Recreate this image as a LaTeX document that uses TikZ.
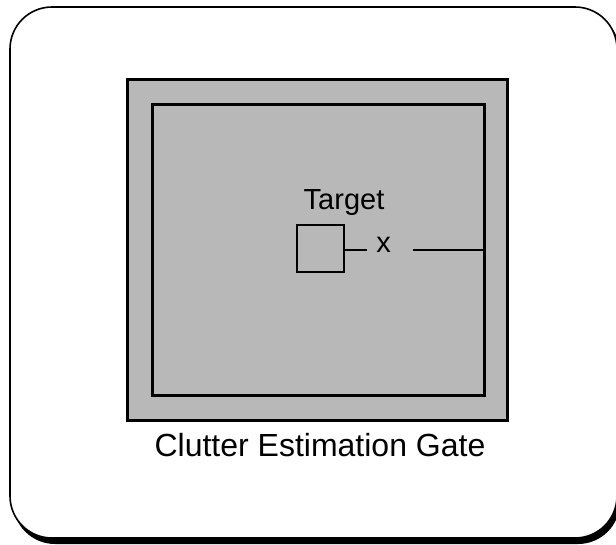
\documentclass[tikz,border=0pt]{standalone}
\usepackage{fontspec}
\setmainfont{Liberation Sans}
\begin{document}
\begin{tikzpicture}[x=1pt,y=-1pt,
  gatefill/.style={fill=black!28},
  gateline/.style={draw=black,line width=3pt},
  thinline/.style={draw=black,line width=2pt},
  lbl/.style={font=\fontsize{29}{34}\selectfont,inner sep=0pt},
  caplbl/.style={font=\fontsize{32}{38}\selectfont,inner sep=0pt}]
\useasboundingbox (0,0) rectangle (616,544);
\begin{scope}
\clip (0,0) rectangle (616,544);
% shadow of frame
\fill[black,rounded corners=42pt] (13,11) rectangle (620,544);
\filldraw[fill=white,draw=black,line width=1.6pt,rounded corners=42pt] (10,7) rectangle (617,538);
\end{scope}
\coordinate (frame) at (313,272);
% gate
\node[gatefill,gateline,minimum width=380pt,minimum height=341pt,inner sep=0pt] (gateouter) at (317.5,250) {};
\node[gatefill,gateline,minimum width=332pt,minimum height=291pt,inner sep=0pt] (gateinner) at (318,249.5) {};
% target
\node[thinline,minimum size=47pt,inner sep=0pt] (sq) at (320,248.5) {};
\node[lbl,anchor=base] (tlabel) at (344,209) {Target};
\node[lbl,inner sep=1pt] (xm) at (383.5,245) {x};
\coordinate (ls) at (413,250);
\draw[line width=2pt] (sq.east |- ls) -- (367,250);
\draw[line width=2pt] (ls) -- (gateinner.east |- ls);
\node[caplbl,anchor=base] (caption) at (320,456) {Clutter Estimation Gate};
\end{tikzpicture}
\end{document}
